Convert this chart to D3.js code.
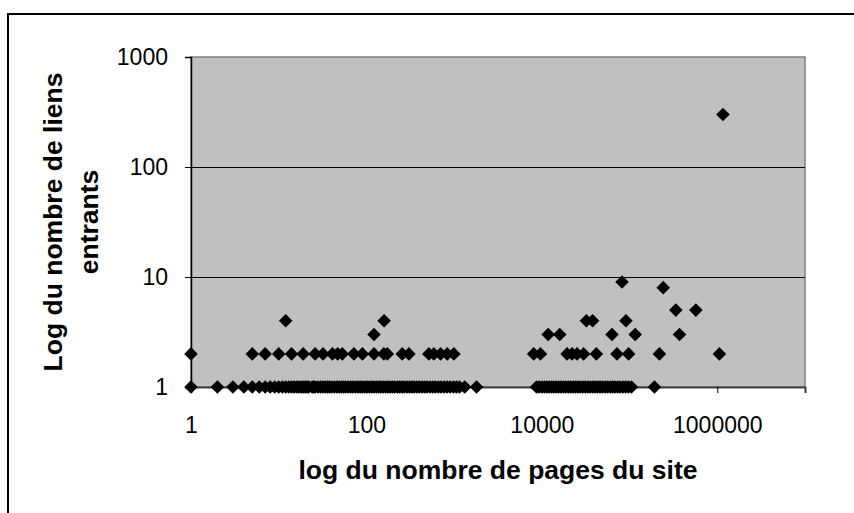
<!DOCTYPE html>
<html><head><meta charset="utf-8">
<script src="https://cdn.jsdelivr.net/npm/d3@7"></script>
<style>
html,body{margin:0;padding:0;background:#fff;}
svg{display:block;font-family:"Liberation Sans",Arial,sans-serif;}
</style></head>
<body><svg id="c" width="854" height="513"></svg>
<script>
// ---- data (x = pages, grouped by number of incoming links) ----
const pagesAt1 = [1,2,3,4,5,6,7,8,9,10,11,12,13,14,15,16,17,18,19,20,21,22,24,25,26,28,30,32,34,36,38,40,43,46,49,52,55,58,62,66,70,75,80,85,90,96,102,108,115,122,130,138,146,155,165,175,186,198,210,225,240,255,270,290,310,330,350,375,400,430,460,490,530,570,610,660,710,770,830,900,980,1060,1150,1320,1800,
  8700,9300,10000,10700,11400,12100,12900,13700,14600,15500,16500,17600,18700,20000,21300,22700,24200,25800,27500,29300,31200,33300,35500,38000,40500,43000,46000,49000,52500,56000,60000,64000,68000,73000,78000,84000,90000,97000,105000,192000];
const pagesAt2 = [1,5,7,10,14,19,26,32,41,47,53,72,90,122,158,173,256,305,515,587,700,834,993,8070,9640,19400,22100,25200,29900,41800,71900,97500,219000,1057000];
const pagesAt3 = [122,11800,16000,63000,116000,371000];
const pagesAt4 = [12,159,32200,37900,91000];
const pagesAt5 = [337000,570000];
const pagesAt8 = [242000];
const pagesAt9 = [82000];
const pagesAt300 = [1160000];
const linkLevels = [1,2,3,4,5,8,9,300];
const xTicks = [1,100,10000,1000000];
const yTicks = [1,10,100,1000];
const xTitle = "log du nombre de pages du site";
const yTitle = ["Log du nombre de liens", "entrants"];

const groups = [pagesAt1,pagesAt2,pagesAt3,pagesAt4,pagesAt5,pagesAt8,pagesAt9,pagesAt300];
const points = [];
groups.forEach((arr,i)=>arr.forEach(p=>points.push({x:p,y:linkLevels[i]})));

// ---- layout ----
const L=191, R=805, T=57, B=387;
const svg = d3.select("#c");
const x = d3.scaleLog().domain([1,1e7]).range([L,R]);
const y = d3.scaleLog().domain([1,1000]).range([B,T]);

// outer frame
svg.append("rect").attr("x",8).attr("y",14).attr("width",900).attr("height",600)
  .attr("fill","#fff").attr("stroke","#000").attr("stroke-width",2);

// plot area
svg.append("rect").attr("x",L).attr("y",T).attr("width",R-L).attr("height",B-T)
  .attr("fill","#c0c0c0").attr("stroke","#808080").attr("stroke-width",1.5);

// gridlines
svg.append("g").selectAll("line").data([10,100]).join("line")
  .attr("x1",L).attr("x2",R).attr("y1",d=>Math.round(y(d))+0.5).attr("y2",d=>Math.round(y(d))+0.5)
  .attr("stroke","#000").attr("stroke-width",1);

// axes
const yAxis = svg.append("g").attr("transform",`translate(${L},0)`)
  .call(d3.axisLeft(y).tickValues(yTicks).tickFormat(d3.format("d")).tickSize(6).tickPadding(17));
const xAxis = svg.append("g").attr("transform",`translate(0,${B})`)
  .call(d3.axisBottom(x).tickValues(xTicks).tickFormat(d3.format("d")).tickSize(6).tickPadding(24));
[yAxis,xAxis].forEach(g=>{
  g.select(".domain").attr("stroke","#000").attr("stroke-width",1.5);
  g.selectAll(".tick line").attr("stroke","#000");
  g.selectAll("text").attr("fill","#000").style("font-size","23px").style("font-family","'Liberation Sans',Arial,sans-serif");
});
xAxis.select(".domain").attr("stroke","#404040").attr("stroke-width",2);

// markers (diamonds)
const h = 6.8;
svg.append("g").selectAll("path").data(points).join("path")
  .attr("transform",d=>`translate(${x(d.x)},${y(d.y)})`)
  .attr("d",`M0,${-h}L${h},0L0,${h}L${-h},0Z`)
  .attr("fill","#000");

// titles
svg.append("text").attr("x",(L+R)/2).attr("y",479).attr("text-anchor","middle")
  .style("font-size","26.5px").style("font-weight","bold").text(xTitle);
const yt = svg.append("text").attr("transform",`translate(62,${(T+B)/2}) rotate(-90)`)
  .attr("text-anchor","middle").style("font-size","26.5px").style("font-weight","bold");
yTitle.forEach((t,i)=>yt.append("tspan").attr("x",0).attr("dy",i?36:0).text(t));
</script></body></html>
